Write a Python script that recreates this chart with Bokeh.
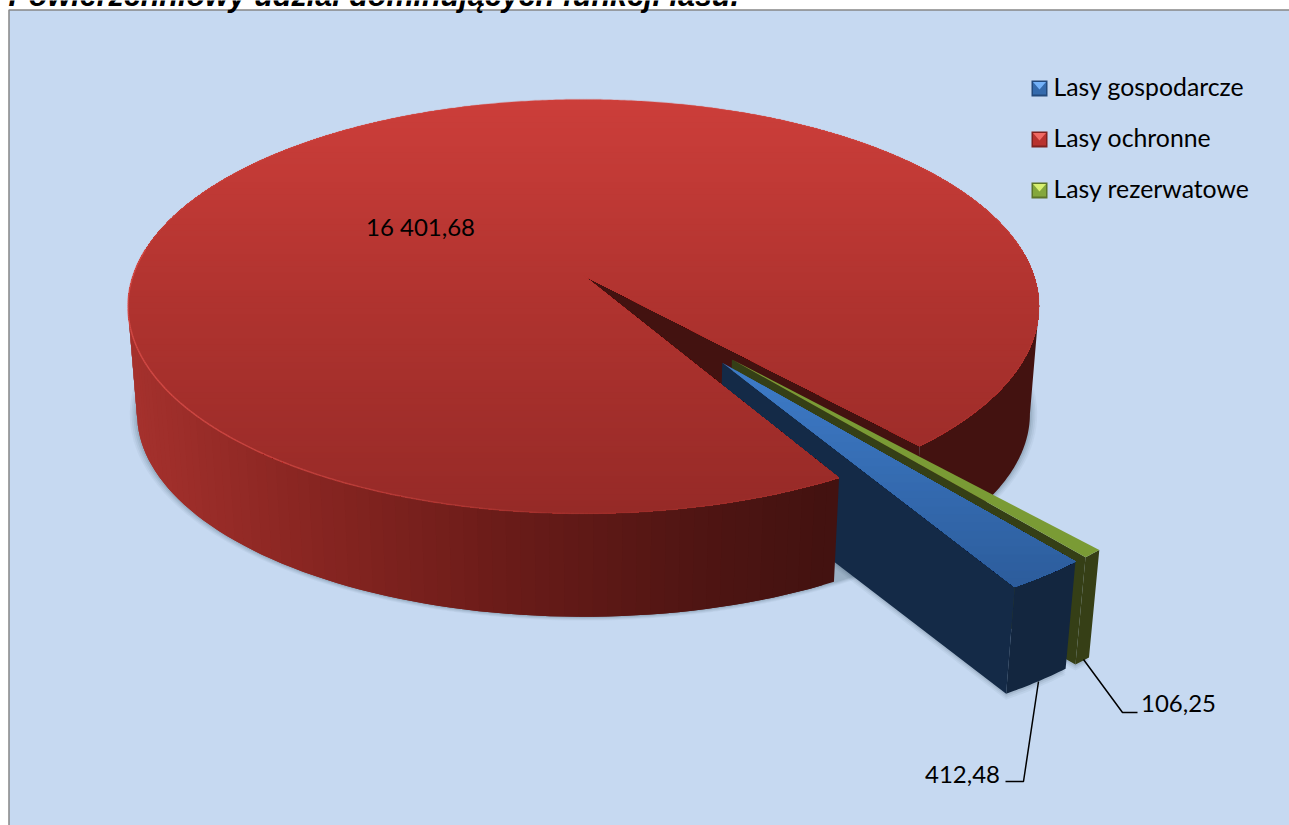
import math
from bokeh.plotting import figure
from bokeh.models import Range1d
from bokeh.core.properties import value
from bokeh.embed import file_html
from bokeh.resources import INLINE

# ---- data ----
title_text = "Powierzchniowy udział dominujących funkcji lasu."
categories = ["Lasy gospodarcze", "Lasy ochronne", "Lasy rezerwatowe"]
areas = [412.48, 16401.68, 106.25]

# ---- projection of the 3D pie (pixels of the chart) ----
W, H = 1289, 825
CX, CY = 583.0, 275.0
AX, BY, K = 450.4, 202.4, 0.1497
DEPTH, SHRINK = 108.0, 0.98
PIECE_DEPTH = 113.0
EXPLODE = 0.505
PIECE_R = 0.977
CUT_PAD = 0.45
START_DEG = -51.2
SIL = math.degrees(math.asin(K))  # angle of the silhouette of the perspective disc


def proj(u, v, bottom=False, grow=0.0, depth=DEPTH):
    w = 1 + K * v
    x = CX + AX * u / w
    y = CY - BY * v / w
    if bottom:
        s = SHRINK + grow
        x = CX + s * (x - CX)
        y = CY + depth + s * (y - CY)
    return x, y


def mix(stops, t):
    t0, c0 = stops[0]
    if t <= t0:
        return c0
    for t1, c1 in stops[1:]:
        if t <= t1:
            f = (t - t0) / (t1 - t0)
            a = [int(c0[i:i + 2], 16) for i in (1, 3, 5)]
            b = [int(c1[i:i + 2], 16) for i in (1, 3, 5)]
            return "#%02x%02x%02x" % tuple(round(p + (q - p) * f) for p, q in zip(a, b))
        t0, c0 = t1, c1
    return c0


def clip_below(poly, y0):
    out = []
    n = len(poly)
    for i in range(n):
        a, b = poly[i], poly[(i + 1) % n]
        ina, inb = a[1] >= y0, b[1] >= y0
        if ina:
            out.append(a)
        if ina != inb:
            f = (y0 - a[1]) / (b[1] - a[1])
            out.append((a[0] + (b[0] - a[0]) * f, y0))
    return out


total = sum(areas)
sweep = [a / total * 360 for a in areas]
# clockwise from START: blue, red, green
b_start = START_DEG
b_end = b_start - sweep[0]
r_start = b_end - CUT_PAD
r_end = b_end - sweep[1] + CUT_PAD
g0 = b_end - sweep[1] + 360
g1 = g0 - sweep[2]


def arc_pts(a0, a1, ox=0.0, oy=0.0, n=None, r=1.0):
    n = n or max(2, int(abs(a1 - a0)) * 2)
    return [(ox + r * math.cos(math.radians(a0 + (a1 - a0) * i / n)),
             oy + r * math.sin(math.radians(a0 + (a1 - a0) * i / n))) for i in range(n + 1)]


def top_sector(a0, a1, ox=0.0, oy=0.0, r=1.0):
    return [proj(ox, oy)] + [proj(u, v) for u, v in arc_pts(a0, a1, ox, oy, r=r)]


def wall_poly(arc, depth=DEPTH):
    tops = [proj(*a) for a in arc]
    bots = [proj(*a, bottom=True, depth=depth) for a in reversed(arc)]
    pts = tops + bots
    return [c[0] for c in pts], [c[1] for c in pts]


def cut_wall(c, e, depth=DEPTH):
    q = [proj(*c), proj(*e), proj(*e, bottom=True, depth=depth), proj(*c, bottom=True, depth=depth)]
    return [a[0] for a in q], [a[1] for a in q]


p = figure(width=W, height=H, x_range=Range1d(0, W), y_range=Range1d(H, 0),
           output_backend="svg", toolbar_location=None, min_border=0,
           background_fill_color="white",
           border_fill_color="white", outline_line_color=None)
p.xaxis.visible = False
p.yaxis.visible = False
p.grid.visible = False

# plot area
p.quad(left=8.5, right=W + 3, top=9.5, bottom=H + 3, fill_color="#C6D9F1",
       line_color="#868686", line_width=1.5)

# soft shadows
SHADOW = "#3A4F66"
full = arc_pts(0, 360, n=180)
for grow, alpha in [(0.016, 0.05), (0.012, 0.07), (0.008, 0.09), (0.004, 0.12)]:
    pts = [proj(u, v, bottom=True, grow=grow) for u, v in full]
    p.patch([c[0] for c in pts], [c[1] for c in pts], fill_color=SHADOW, fill_alpha=alpha, line_color=None)

bm = math.radians((b_start + b_end) / 2)
gm = bm + math.radians(3.5)
box, boy = EXPLODE * math.cos(bm) + 0.004, EXPLODE * math.sin(bm) + 0.012
gox, goy = 0.5 * math.cos(gm) + 0.003, 0.5 * math.sin(gm) + 0.004

for off, alpha in [(6, 0.06), (4, 0.08), (2, 0.12)]:
    for ox, oy, a0, a1 in [(gox, goy, g0, g1), (box, boy, b_start, b_end)]:
        pts = [proj(ox, oy, bottom=True, depth=PIECE_DEPTH)] + [
            proj(u, v, bottom=True, depth=PIECE_DEPTH) for u, v in arc_pts(a0, a1, ox, oy, r=PIECE_R)]
        p.patch([c[0] for c in pts], [c[1] + off for c in pts], fill_color=SHADOW, fill_alpha=alpha, line_color=None)

RED_SIDE_DARK = "#431210"
RED_SIDE = [(130, "#A5312D"), (300, "#8A2622"), (500, "#6C1C19"), (700, "#501513"), (830, "#431210")]
RED_TOP = [(99, "#CC3E3A"), (300, "#B0332F"), (513, "#962A27")]

# red back-right outer wall and upper cut wall
back = arc_pts(r_end + 360, -SIL)
xs, ys = wall_poly(back)
p.patch(xs, ys, fill_color=RED_SIDE_DARK, line_color=None)
xs, ys = cut_wall((0, 0), back[0])
p.patch(xs, ys, fill_color=RED_SIDE_DARK, line_color=None)

# green piece
GREEN_TOP, GREEN_DARK = "#7A9B35", "#353F16"
g_arc = arc_pts(g0, g1, gox, goy, r=PIECE_R)
xs, ys = cut_wall((gox, goy), g_arc[-1], PIECE_DEPTH)
p.patch(xs, ys, fill_color=GREEN_DARK, line_color=None)
xs, ys = wall_poly(g_arc, PIECE_DEPTH)
p.patch(xs, ys, fill_color="#363F16", line_color=None)
t = top_sector(g0, g1, gox, goy, r=PIECE_R)
p.patch([c[0] for c in t], [c[1] for c in t], fill_color=GREEN_TOP, line_color=None)

# blue piece
BLUE_WALL, BLUE_FACE = "#142A47", "#13263F"
BLUE_TOP = [(360, "#3E7CC9"), (590, "#2C5C9B")]
b_arc = arc_pts(b_start, b_end, box, boy, r=PIECE_R)
xs, ys = wall_poly(b_arc, PIECE_DEPTH)
p.patch(xs, ys, fill_color=BLUE_FACE, line_color=None)
xs, ys = cut_wall((box, boy), b_arc[-1], PIECE_DEPTH)
p.patch(xs, ys, fill_color=BLUE_WALL, line_color=None)
t = top_sector(b_start, b_end, box, boy, r=PIECE_R)
y = min(c[1] for c in t)
ymax = max(c[1] for c in t)
while y < ymax:
    part = clip_below(t, y)
    if len(part) > 2:
        col = mix(BLUE_TOP, y + 4)
        p.patch([c[0] for c in part], [c[1] for c in part], fill_color=col, line_color=None)
    y += 8

# red front outer wall: overlapping strips
front = arc_pts(r_start, -180 + SIL, n=70)
for i in range(len(front) - 1):
    seg = front[i:i + 3]
    xs, ys = wall_poly(seg)
    p.patch(xs, ys, fill_color=mix(RED_SIDE, proj(*front[i])[0]), line_color=None)

# red top, painted as horizontal colour bands
t = top_sector(r_start, r_end)
y = min(c[1] for c in t) - 1
ymax = max(c[1] for c in t)
while y < ymax:
    part = clip_below(t, y)
    if len(part) > 2:
        col = mix(RED_TOP, y + 3)
        p.patch([c[0] for c in part], [c[1] for c in part], fill_color=col, line_color=None)
    y += 6

# lighter rim
r_arc = arc_pts(r_start, r_end)
seg_x, seg_y, seg_a = [], [], []
for a, b in zip(r_arc[:-1], r_arc[1:]):
    pa, pb = proj(*a), proj(*b)
    seg_x.append([pa[0], pb[0]])
    seg_y.append([pa[1], pb[1]])
    seg_a.append(max(0.12, min(0.75, 0.8 - (pa[0] - 130) / 700)) if pa[1] > 250 else 0.25)
p.multi_line(seg_x, seg_y, line_color="#DE524D", line_alpha=seg_a, line_width=1.5)

# leader lines
FONT = value("Lato")
p.line([1083, 1122, 1137], [659, 712, 712], line_color="black", line_width=1.5)
p.line([1038, 1023, 1005], [681, 781, 781], line_color="black", line_width=1.5)


def fmt(v):
    return f"{v:,.2f}".replace(",", " ").replace(".", ",")


# data labels
p.text([420], [226], text=[fmt(areas[1])], text_font=FONT, text_font_size="24px",
       text_color="black", text_align="center", text_baseline="middle")
p.text([1178], [703], text=[fmt(areas[2])], text_font=FONT, text_font_size="24px",
       text_color="black", text_align="center", text_baseline="middle")
p.text([962], [774], text=[fmt(areas[0])], text_font=FONT, text_font_size="24px",
       text_color="black", text_align="center", text_baseline="middle")

# legend
LEG_X, LEG_Y, LEG_STEP, SZ = 1031, 80, 51, 16
LEG_COL = [("#346AAC", "#74B2F8", "#234A7C"), ("#B8322F", "#F06A64", "#7F2220"), ("#84A73C", "#D8F070", "#5C7529")]
for i, cat in enumerate(categories):
    ly = LEG_Y + i * LEG_STEP
    base, light, dark = LEG_COL[i]
    p.quad(left=LEG_X, right=LEG_X + SZ, top=ly, bottom=ly + SZ, fill_color=dark, line_color=None)
    p.quad(left=LEG_X + 1.5, right=LEG_X + SZ - 1.5, top=ly + 1.5, bottom=ly + SZ - 2, fill_color=base, line_color=None)
    p.patch([LEG_X + 1.5, LEG_X + SZ - 1.5, LEG_X + SZ / 2], [ly + 1.5, ly + 1.5, ly + SZ / 2 + 1],
            fill_color=light, line_color=None)
    p.text([LEG_X + 22], [ly + SZ / 2 - 2], text=[cat], text_font=FONT, text_font_size="24.8px",
           text_color="black", text_align="left", text_baseline="middle")

# clipped title, as in the reference
p.text([8], [-6], text=[title_text], text_font=value("Liberation Sans"), text_font_size="30.5px",
       text_font_style="bold italic", text_color="black", text_align="left", text_baseline="alphabetic")

open("out.html", "w").write(file_html(p, INLINE))
